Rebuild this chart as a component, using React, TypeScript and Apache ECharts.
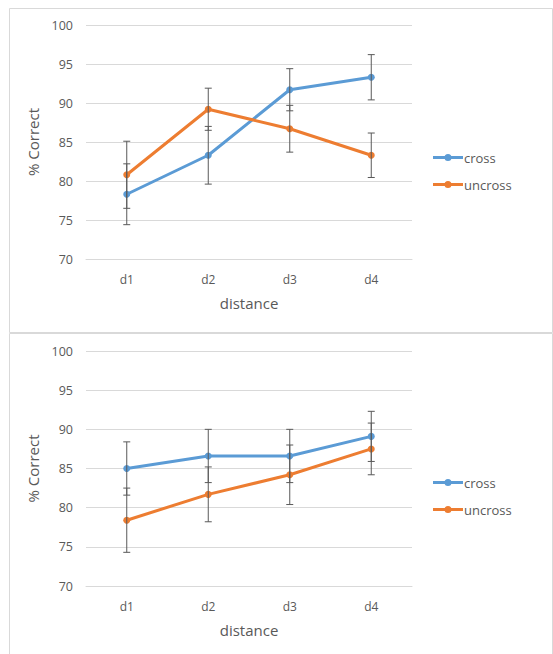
import React, { useEffect, useRef } from "react";
import * as echarts from "echarts";

const categories = ["d1", "d2", "d3", "d4"];
const yTicks = [70, 75, 80, 85, 90, 95, 100];

// Top panel
const topCross = [78.3, 83.3, 91.7, 93.3];
const topCrossErr = [3.9, 3.7, 2.7, 2.9];
const topUncross = [80.8, 89.2, 86.7, 83.3];
const topUncrossErr = [4.3, 2.7, 3.0, 2.85];

// Bottom panel
const botCross = [85.0, 86.6, 86.6, 89.1];
const botCrossErr = [3.4, 3.4, 3.4, 3.2];
const botUncross = [78.4, 81.7, 84.2, 87.5];
const botUncrossErr = [4.1, 3.5, 3.8, 3.3];

const BLUE = "#5B9BD5";
const ORANGE = "#ED7D31";
const GRID = "#d9d9d9";
const TXT = "#595959";
const FONT = "'Open Sans', 'Liberation Sans', sans-serif";

function errData(vals: number[], errs: number[]) {
  return vals.map((v, i) => [i, v - errs[i], v + errs[i]]);
}

function errSeries(xi: number, vals: number[], errs: number[]) {
  return {
    type: "custom",
    xAxisIndex: xi,
    yAxisIndex: xi,
    z: 5,
    silent: true,
    data: errData(vals, errs),
    renderItem: (params: any, api: any) => {
      const x = api.value(0);
      const lo = api.coord([x, api.value(1)]);
      const hi = api.coord([x, api.value(2)]);
      const cap = 3.5;
      const st = { stroke: TXT, lineWidth: 1 };
      return {
        type: "group",
        children: [
          { type: "line", shape: { x1: lo[0], y1: lo[1], x2: hi[0], y2: hi[1] }, style: st },
          { type: "line", shape: { x1: lo[0] - cap, y1: lo[1], x2: lo[0] + cap, y2: lo[1] }, style: st },
          { type: "line", shape: { x1: hi[0] - cap, y1: hi[1], x2: hi[0] + cap, y2: hi[1] }, style: st },
        ],
      };
    },
  };
}

function lineSeries(name: string, xi: number, vals: number[], color: string) {
  return {
    name,
    type: "line",
    xAxisIndex: xi,
    yAxisIndex: xi,
    data: vals,
    symbol: "circle",
    symbolSize: 7,
    z: 3,
    lineStyle: { color, width: 3 },
    itemStyle: { color },
  };
}

function xAxis(gi: number) {
  return {
    type: "category",
    gridIndex: gi,
    data: categories,
    boundaryGap: true,
    axisLine: { show: true, lineStyle: { color: GRID } },
    axisTick: { show: false },
    axisLabel: { color: TXT, fontSize: 12, fontFamily: FONT, margin: 14 },
    name: "distance",
    nameLocation: "middle",
    nameGap: 36,
    nameTextStyle: { color: TXT, fontSize: 15, fontFamily: FONT },
  };
}

function yAxis(gi: number) {
  return {
    type: "value",
    gridIndex: gi,
    min: yTicks[0],
    max: yTicks[yTicks.length - 1],
    interval: 5,
    axisLine: { show: false },
    axisTick: { show: false },
    splitLine: { lineStyle: { color: GRID, width: 1 } },
    axisLabel: { color: TXT, fontSize: 12.5, fontFamily: FONT, margin: 13 },
    name: "% Correct",
    nameLocation: "middle",
    nameGap: 42,
    nameRotate: 90,
    nameTextStyle: { color: TXT, fontSize: 15, fontFamily: FONT },
  };
}

const LEG_ICON =
  "path://M0,2 L30,2 L30,5 L0,5 Z M11.5,3.5 A3.5,3.5 0 1 1 18.5,3.5 A3.5,3.5 0 1 1 11.5,3.5 Z";

function legend(top: number) {
  return {
    orient: "vertical",
    left: 428,
    top,
    itemGap: 14,
    itemWidth: 30,
    itemHeight: 7,
    icon: LEG_ICON,
    textStyle: { color: TXT, fontSize: 13, fontFamily: FONT, padding: [0, 0, 0, -4] },
    data: [
      { name: "cross", itemStyle: { color: BLUE } },
      { name: "uncross", itemStyle: { color: ORANGE } },
    ],
  };
}

export default function App() {
  const ref = useRef<HTMLDivElement>(null);
  useEffect(() => {
    document.body.style.margin = "0";
    const chart = echarts.init(ref.current!, null, { renderer: "svg" });
    chart.setOption({
      animation: false,
      backgroundColor: "#ffffff",
      graphic: [
        { type: "rect", shape: { x: 9.5, y: 8.5, width: 543, height: 324 }, style: { fill: "none", stroke: GRID, lineWidth: 1 }, z: -1 },
        { type: "rect", shape: { x: 9.5, y: 333.5, width: 543, height: 330 }, style: { fill: "none", stroke: GRID, lineWidth: 1 }, z: -1 },
      ],
      grid: [
        { left: 86, top: 25, width: 326, height: 234 },
        { left: 86, top: 351, width: 326, height: 235 },
      ],
      xAxis: [xAxis(0), xAxis(1)],
      yAxis: [yAxis(0), yAxis(1)],
      legend: [legend(146), legend(471)],
      series: [
        lineSeries("cross", 0, topCross, BLUE),
        lineSeries("uncross", 0, topUncross, ORANGE),
        errSeries(0, topCross, topCrossErr),
        errSeries(0, topUncross, topUncrossErr),
        lineSeries("cross", 1, botCross, BLUE),
        lineSeries("uncross", 1, botUncross, ORANGE),
        errSeries(1, botCross, botCrossErr),
        errSeries(1, botUncross, botUncrossErr),
      ],
    });
    return () => chart.dispose();
  }, []);
  return <div ref={ref} style={{ width: 553, height: 654 }} />;
}
